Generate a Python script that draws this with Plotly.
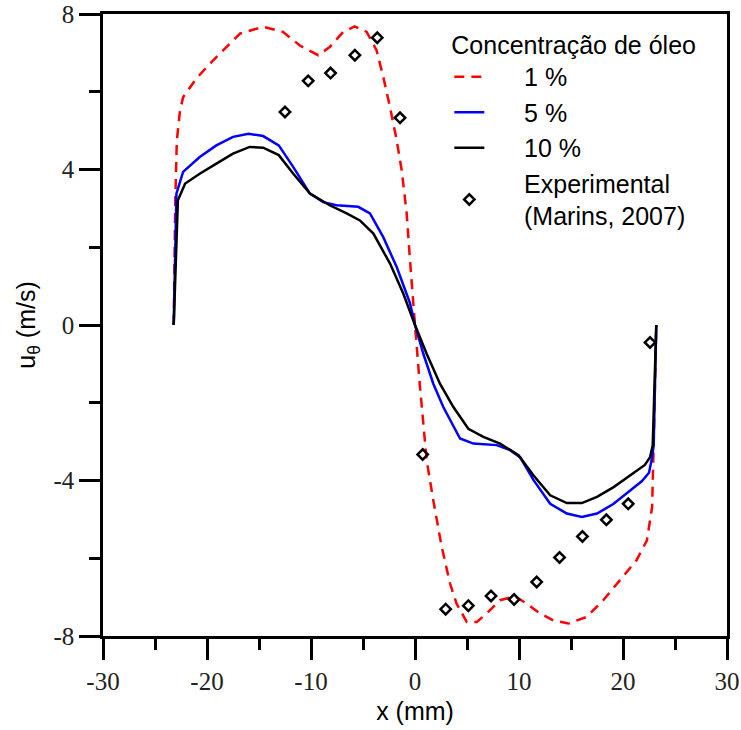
import plotly.graph_objects as go

# ---- data ----
x_1pct = [-23.2, -23.05, -22.9, -22.6, -22.3, -21.0, -19.4, -16.8, -14.6, -12.7, -11.07, -9.3, -8.2,
          -6.9, -5.8, -4.65, -3.7, -3.05, -2.4, -1.76, -1.28, -0.8, -0.48, -0.16, 0.0, 0.48, 1.12,
          1.76, 2.57, 3.37, 4.0, 4.98, 5.94, 6.9, 8.18, 9.62, 10.75, 12.03, 13.3, 14.75, 16.5,
          18.1, 19.7, 21.3, 22.3, 22.8, 22.94, 23.1, 23.2]
y_1pct = [0.0, 3.2, 4.75, 5.5, 5.86, 6.35, 6.81, 7.5, 7.67, 7.54, 7.19, 6.94, 7.15,
          7.54, 7.68, 7.54, 7.07, 6.38, 5.6, 4.75, 3.98, 2.87, 1.66, 0.38, 0.0, -1.59, -3.48,
          -4.51, -5.71, -6.65, -7.17, -7.64, -7.64, -7.42, -7.08, -6.98, -7.17, -7.42, -7.6, -7.68, -7.51,
          -7.08, -6.57, -6.05, -5.54, -4.68, -3.14, -1.5, 0.0]

x_5pct = [-23.2, -22.94, -22.3, -20.7, -19.1, -17.5, -16.0, -14.6, -13.1, -11.7, -10.1, -8.83, -7.54,
          -5.46, -4.33, -3.05, -1.76, -0.48, 0.0, 0.8, 1.76, 2.72, 4.33, 5.61, 7.86, 9.14, 10.1,
          11.4, 13.0, 14.6, 16.04, 17.5, 19.1, 20.7, 21.8, 22.5, 22.8, 22.95, 23.2]
y_5pct = [0.0, 3.38, 3.94, 4.32, 4.62, 4.84, 4.92, 4.86, 4.62, 4.06, 3.38, 3.16, 3.08,
          3.04, 2.87, 2.26, 1.49, 0.56, 0.0, -0.74, -1.51, -2.11, -2.92, -3.05, -3.09, -3.22, -3.40,
          -3.99, -4.6, -4.85, -4.94, -4.85, -4.6, -4.25, -4.02, -3.8, -3.4, -3.1, 0.0]

x_10pct = [-23.2, -22.8, -22.1, -20.7, -19.1, -17.5, -15.9, -14.6, -13.1, -11.7, -10.1, -8.2, -6.57,
           -5.3, -4.0, -2.4, -1.13, 0.0, 1.12, 2.4, 3.69, 5.13, 6.57, 8.18, 9.95, 11.4, 13.0,
           14.6, 16.04, 17.5, 19.1, 20.7, 22.1, 22.6, 22.86, 23.2]
y_10pct = [0.0, 3.21, 3.64, 3.89, 4.15, 4.41, 4.58, 4.56, 4.37, 3.89, 3.38, 3.08, 2.87,
           2.69, 2.35, 1.58, 0.81, 0.0, -0.74, -1.51, -2.11, -2.67, -2.88, -3.05, -3.35, -3.87, -4.38,
           -4.58, -4.58, -4.42, -4.17, -3.87, -3.6, -3.4, -3.09, 0.0]

x_exp = [-12.5, -10.27, -8.12, -5.78, -3.63, -1.44, 0.74, 2.95, 5.13, 7.31, 9.53, 11.7, 13.9,
         16.1, 18.4, 20.5, 22.6]
y_exp = [5.48, 6.28, 6.48, 6.94, 7.39, 5.33, -3.33, -7.31, -7.22, -6.97, -7.06, -6.61, -5.98,
         -5.44, -5.01, -4.6, -0.45]

x_ticks = [-30, -20, -10, 0, 10, 20, 30]
y_ticks = [-8, -4, 0, 4, 8]

SANS = "Liberation Sans, Arial, sans-serif"
SERIF = "Liberation Serif, Times New Roman, serif"
PAD = "\u00a0" * 5

fig = go.Figure()
fig.add_trace(go.Scatter(x=x_1pct, y=y_1pct, mode="lines", name=PAD + "1 %",
                         line=dict(color="#ff0000", width=2.5, dash="10px,7px")))
fig.add_trace(go.Scatter(x=x_5pct, y=y_5pct, mode="lines", name=PAD + "5 %",
                         line=dict(color="#0000ff", width=2.5)))
fig.add_trace(go.Scatter(x=x_10pct, y=y_10pct, mode="lines", name=PAD + "10 %",
                         line=dict(color="#000000", width=2.5)))
fig.add_trace(go.Scatter(x=x_exp, y=y_exp, mode="markers",
                         name=PAD + "Experimental<br>" + PAD + "(Marins, 2007)",
                         marker=dict(symbol="diamond-open", size=8, color="#000000",
                                     line=dict(width=2.5, color="#000000"))))

axis_common = dict(showgrid=False, zeroline=False, showline=True, linecolor="black",
                   linewidth=2.5, mirror=True, ticks="outside", ticklen=21, tickwidth=2.5,
                   tickcolor="black", automargin=False, ticklabeloverflow="allow",
                   tickfont=dict(family=SERIF, size=25, color="#222222"))

fig.update_xaxes(range=[-30, 30], tickvals=x_ticks, ticktext=[str(v) for v in x_ticks],
                 minor=dict(dtick=5, ticks="outside", ticklen=11, tickwidth=2.5, tickcolor="black"),
                 title=dict(text="x (mm)", font=dict(family=SANS, size=25, color="black"), standoff=9),
                 **axis_common)
fig.update_yaxes(range=[-8, 8], tickvals=y_ticks, ticktext=[str(v) for v in y_ticks],
                 minor=dict(dtick=2, ticks="outside", ticklen=11, tickwidth=2.5, tickcolor="black"),
                 title=dict(text="u<sub>θ</sub> (m/s)", font=dict(family=SANS, size=25, color="black"),
                            standoff=11),
                 **axis_common)

fig.update_layout(
    width=741, height=730,
    margin=dict(l=103, r=14, t=14, b=94),
    plot_bgcolor="white", paper_bgcolor="white",
    legend=dict(x=0.555, y=0.988, xanchor="left", yanchor="top",
                bgcolor="rgba(0,0,0,0)",
                title=dict(text="Concentração de óleo", font=dict(family=SANS, size=25, color="black")),
                font=dict(family=SANS, size=25, color="black")),
)

fig.write_html("out.html", config={"displayModeBar": False},
               post_script="document.body.style.margin='0';")
